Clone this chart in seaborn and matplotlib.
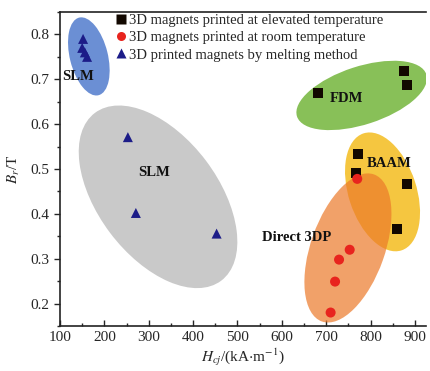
import matplotlib
matplotlib.use("Agg")
import matplotlib.pyplot as plt
import matplotlib.transforms as mtransforms
from matplotlib.patches import Ellipse
from matplotlib.ticker import MultipleLocator
import seaborn as sns
import pandas as pd

# ---- data ----
elev_hc = [681, 875, 882, 771, 768, 882, 859]
elev_br = [0.669, 0.718, 0.687, 0.533, 0.49, 0.467, 0.367]
room_hc = [770, 753, 729, 720, 710]
room_br = [0.478, 0.320, 0.298, 0.249, 0.180]
melt_hc = [152, 150, 156, 161, 253, 271, 453]
melt_br = [0.79, 0.77, 0.76, 0.75, 0.571, 0.402, 0.356]
series_names = ["3D magnets printed at elevated temperature",
                "3D magnets printed at room temperature",
                "3D printed magnets by melting method"]
x_ticks = [100, 200, 300, 400, 500, 600, 700, 800, 900]
y_ticks = [0.2, 0.3, 0.4, 0.5, 0.6, 0.7, 0.8]

df = pd.concat([
    pd.DataFrame({"hc": elev_hc, "br": elev_br, "type": series_names[0]}),
    pd.DataFrame({"hc": room_hc, "br": room_br, "type": series_names[1]}),
    pd.DataFrame({"hc": melt_hc, "br": melt_br, "type": series_names[2]}),
])

sns.set_theme(style="ticks")
plt.rcParams["font.family"] = ["Liberation Serif", "DejaVu Serif"]
plt.rcParams["mathtext.fontset"] = "stix"

fig = plt.figure(figsize=(4.3, 3.71), dpi=100)
ax = fig.add_axes([60 / 430, 1 - 326 / 371, 366 / 430, 314 / 371])
ax.set_xlim(100, 925)
ax.set_ylim(0.15, 0.85)

def add_ellipse(cx, cy, w_px, h_px, angle, color, alpha=1.0, z=1):
    tr = fig.dpi_scale_trans + mtransforms.ScaledTranslation(cx, cy, ax.transData)
    e = Ellipse((0, 0), w_px / 100, h_px / 100, angle=angle, transform=tr,
                facecolor=color, edgecolor="none", alpha=alpha, zorder=z)
    ax.add_patch(e)

add_ellipse(165, 0.751, 80, 38, 104, "#6b8fd4", z=1)
add_ellipse(321, 0.438, 210, 120, 127, "#c9c9c9", z=1)
add_ellipse(780, 0.664, 136, 58, 18, "#88c058", z=1)
add_ellipse(827, 0.449, 123, 68, 108, "#f5c640", z=1)
add_ellipse(749, 0.324, 156, 74, 70.5, "#ec7a2a", alpha=0.70, z=1.5)

palette = {series_names[0]: "#120800", series_names[1]: "#e8241e",
           series_names[2]: "#1c1c88"}
markers = {series_names[0]: "s", series_names[1]: "o", series_names[2]: "^"}
sns.scatterplot(data=df, x="hc", y="br", hue="type", style="type",
                palette=palette, markers=markers, s=52, edgecolor="none",
                ax=ax, zorder=3, legend=True)

leg = ax.legend(loc="upper left", bbox_to_anchor=(0.13, 1.013), frameon=False,
                fontsize=10.5, handletextpad=0.1, labelspacing=0.28,
                borderaxespad=0, handlelength=1.0, markerscale=0.9)

for txt, x, y in [("SLM", 104, 0.707), ("SLM", 276, 0.492), ("FDM", 708, 0.658),
                  ("BAAM", 791, 0.513), ("Direct 3DP", 555, 0.347)]:
    ax.text(x, y, txt, fontsize=10.5, fontweight="bold", ha="left", va="center",
            color="#111111", zorder=4)

ax.set_xticks(x_ticks)
ax.set_yticks(y_ticks)
ax.xaxis.set_minor_locator(MultipleLocator(50))
ax.yaxis.set_minor_locator(MultipleLocator(0.05))
ax.tick_params(axis="x", which="both", direction="in", labelsize=11)
ax.tick_params(axis="y", which="both", direction="out", labelsize=11)
ax.tick_params(which="major", length=4, width=1)
ax.tick_params(which="minor", length=2.5, width=1)
for s in ["left", "bottom", "top"]:
    ax.spines[s].set_visible(True)
    ax.spines[s].set_linewidth(1.2)
    ax.spines[s].set_color("#222222")
ax.spines["right"].set_visible(False)
ax.xaxis.set_ticks_position("bottom")
ax.yaxis.set_ticks_position("left")

ax.set_xlabel(r"$H_{cj}$/(kA$\cdot$m$^{-1}$)", fontsize=11, labelpad=2)
ax.set_ylabel(r"$B_r$/T", fontsize=11, labelpad=6)

fig.savefig("out.png", dpi=100)
